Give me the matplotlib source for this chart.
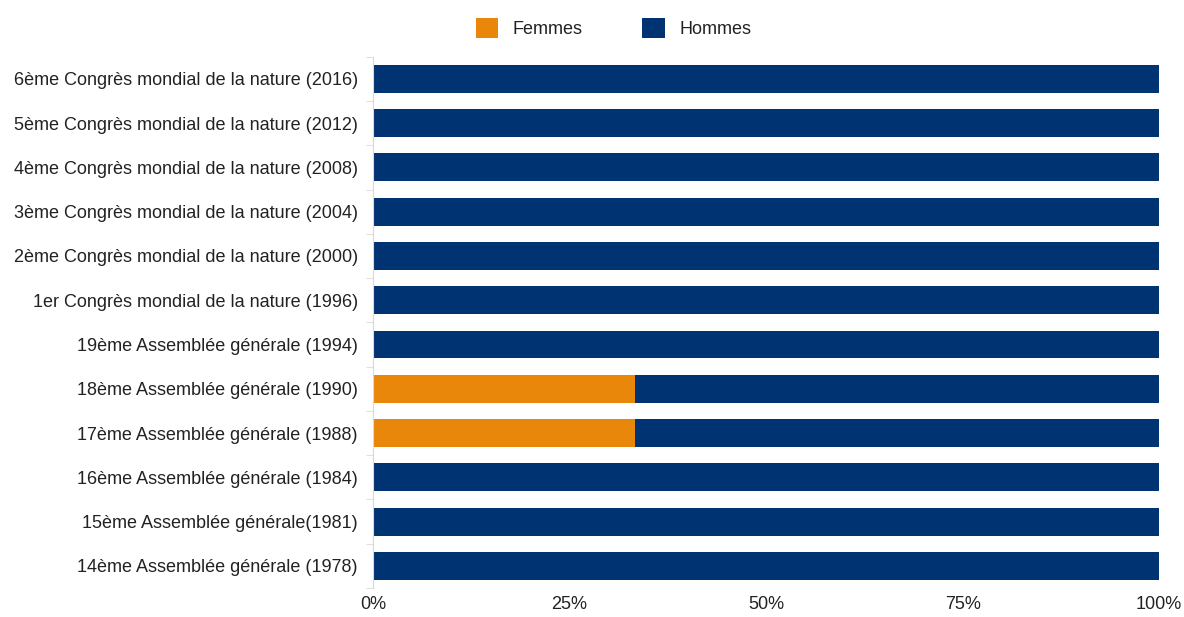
import matplotlib.pyplot as plt
import numpy as np

plt.rcParams['font.family'] = ['Liberation Sans', 'DejaVu Sans']

# Categories from bottom to top
categories = [
    "14ème Assemblée générale (1978)",
    "15ème Assemblée générale(1981)",
    "16ème Assemblée générale (1984)",
    "17ème Assemblée générale (1988)",
    "18ème Assemblée générale (1990)",
    "19ème Assemblée générale (1994)",
    "1er Congrès mondial de la nature (1996)",
    "2ème Congrès mondial de la nature (2000)",
    "3ème Congrès mondial de la nature (2004)",
    "4ème Congrès mondial de la nature (2008)",
    "5ème Congrès mondial de la nature (2012)",
    "6ème Congrès mondial de la nature (2016)",
]
femmes = [0, 0, 0, 33.33, 33.33, 0, 0, 0, 0, 0, 0, 0]
hommes = [100, 100, 100, 66.67, 66.67, 100, 100, 100, 100, 100, 100, 100]
xticks = [0, 25, 50, 75, 100]

col_f = '#E8870A'
col_h = '#003372'
text_col = '#222222'

fig = plt.figure(figsize=(11.84, 6.17), dpi=100)
ax = fig.add_axes([0.315, 0.047, 0.664, 0.861])

y = np.arange(len(categories))
ax.barh(y, femmes, height=0.63, color=col_f, label='Femmes')
ax.barh(y, hommes, left=femmes, height=0.63, color=col_h, label='Hommes')

ax.set_xlim(0, 100)
ax.set_ylim(-0.5, len(categories) - 0.5)
ax.set_yticks(y)
ax.set_yticklabels(categories, fontsize=13, color=text_col)
ax.set_xticks(xticks)
ax.set_xticklabels([f"{t}%" for t in xticks], fontsize=13, color=text_col)

for s in ['top', 'right', 'bottom']:
    ax.spines[s].set_visible(False)
ax.spines['left'].set_color('#d9d9d9')
ax.tick_params(axis='x', length=0, pad=6)
ax.set_yticks(np.arange(len(categories) + 1) - 0.5, minor=True)
ax.tick_params(axis='y', which='minor', length=5, color='#d9d9d9')
ax.tick_params(axis='y', which='major', length=0, pad=11)

fig.legend(loc='center', bbox_to_anchor=(0.518, 0.955), ncol=2, frameon=False,
           fontsize=13, handlelength=1.25, handleheight=1.3, columnspacing=3.3,
           labelcolor=text_col)

fig.savefig('out.png', dpi=100)
